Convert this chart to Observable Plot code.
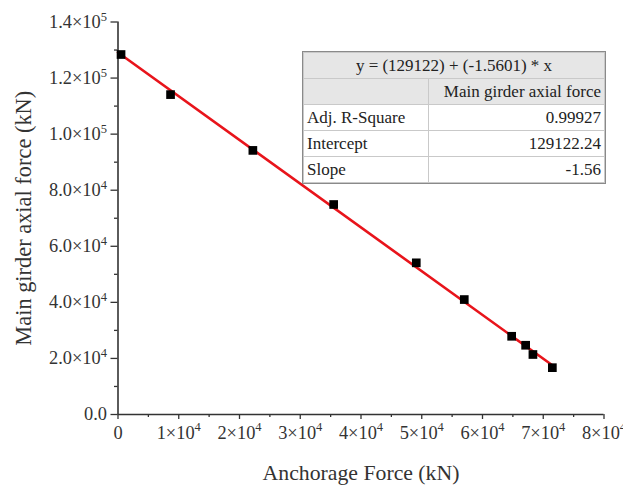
<!DOCTYPE html>
<html>
<head>
<meta charset="utf-8">
<script src="https://cdn.jsdelivr.net/npm/d3@7"></script>
<script src="https://cdn.jsdelivr.net/npm/@observablehq/plot@0.6"></script>
<style>
  body { margin: 0; background: #fff; }
  #wrap { position: relative; width: 623px; height: 485px; font-family: "Liberation Serif", serif; }
  #stats { position: absolute; left: 303px; top: 52px; width: 302px; border-collapse: collapse;
           font-family: "Liberation Serif", serif; font-size: 17px; color: #222; }
  #stats td { height: 25px; padding: 0 3px; border: 1px solid #c9c9c9; line-height: 25px; white-space: nowrap; }
  #stats { outline: 1px solid #8a8a8a; }
  #stats tr.hd td { background: #e6e6e6; }
  #stats td.c1 { width: 118px; text-align: left; }
  #stats td.c2 { text-align: right; }
  #stats td.eq { text-align: center; }
</style>
</head>
<body>
<div id="wrap"></div>
<script>
// Data
const anchorageForce = [500, 8650, 22200, 35500, 49100, 57000, 64800, 67100, 68300, 71500];
const girderForce    = [128400, 114100, 94200, 74900, 54100, 41000, 27900, 24700, 21400, 16700];

// Linear fit shown in the table
const fitIntercept = 129122;
const fitSlope = -1.5601;
const fitXRange = [0, 71500];

// Axis ticks
const xTicks = [0, 10000, 20000, 30000, 40000, 50000, 60000, 70000, 80000];
const xTickLabels = ["0", "1×10⁴", "2×10⁴", "3×10⁴", "4×10⁴", "5×10⁴", "6×10⁴", "7×10⁴", "8×10⁴"];
const xMinorTicks = [5000, 15000, 25000, 35000, 45000, 55000, 65000, 75000];
const yTicks = [0, 20000, 40000, 60000, 80000, 100000, 120000, 140000];
const yTickLabels = ["0.0", "2.0×10⁴", "4.0×10⁴", "6.0×10⁴", "8.0×10⁴", "1.0×10⁵", "1.2×10⁵", "1.4×10⁵"];
const yMinorTicks = [10000, 30000, 50000, 70000, 90000, 110000, 130000];

// Statistics table text
const statsHeader = "y = (129122) + (-1.5601) * x";
const statsColumn = "Main girder axial force";
const statsLabels = ["Adj. R-Square", "Intercept", "Slope"];
const statsValues = ["0.99927", "129122.24", "-1.56"];

const points = anchorageForce.map((x, i) => ({x, y: girderForce[i]}));
const fitLine = fitXRange.map(x => ({x, y: fitIntercept + fitSlope * x}));

const axisColor = "#333";
const baseTickFont = 18;

const chart = Plot.plot({
  width: 623,
  height: 485,
  marginLeft: 117.5,
  marginRight: 19.5,
  marginTop: 21.5,
  marginBottom: 71,
  style: { fontFamily: "Liberation Serif, serif", fontSize: baseTickFont + "px", color: "#333", background: "#fff", overflow: "visible" },
  x: { domain: [0, 80000] },
  y: { domain: [0, 140000] },
  marks: [
    Plot.axisX(xTicks, {
      tickFormat: d => xTickLabels[xTicks.indexOf(d)],
      tickSize: 5, tickPadding: 6, stroke: axisColor, strokeWidth: 1.3,
      label: "Anchorage Force (kN)", labelAnchor: "center", labelArrow: "none", labelOffset: 65
    }),
    Plot.axisX(xMinorTicks, { tickFormat: () => "", tickSize: 3, stroke: axisColor, strokeWidth: 1.3, label: null }),
    Plot.axisY(yTicks, {
      tickFormat: d => yTickLabels[yTicks.indexOf(d)],
      tickSize: 7, tickPadding: 4, stroke: axisColor, strokeWidth: 1.3,
      label: "Main girder axial force (kN)", labelAnchor: "center", labelArrow: "none", labelOffset: 103
    }),
    Plot.axisY(yMinorTicks, { tickFormat: () => "", tickSize: 3.5, stroke: axisColor, strokeWidth: 1.3, label: null }),
    Plot.ruleX([0], { stroke: axisColor, strokeWidth: 1.6 }),
    Plot.ruleY([0], { stroke: axisColor, strokeWidth: 1.6 }),
    Plot.line(fitLine, { x: "x", y: "y", stroke: "#e8141b", strokeWidth: 2.6 }),
    Plot.dot(points, { x: "x", y: "y", symbol: "square", r: 4.9, fill: "#000", stroke: "none" })
  ]
});

const wrap = document.getElementById("wrap");
wrap.appendChild(chart);

// tick labels: superscript exponents as raised tspans
const supMap = {"⁰":"0","¹":"1","²":"2","³":"3","⁴":"4","⁵":"5","⁶":"6","⁷":"7","⁸":"8","⁹":"9"};
const tickTexts = [...chart.querySelectorAll("[aria-label='x-axis tick label'] text, [aria-label='y-axis tick label'] text")];
const sups = [];
tickTexts.forEach(t => {
  const s = t.textContent;
  const m = s.match(/^(.*?)([⁰¹²³⁴⁵⁶⁷⁸⁹]+)$/);
  if (!m) return;
  t.textContent = m[1];
  const sup = document.createElementNS("http://www.w3.org/2000/svg", "tspan");
  sup.textContent = m[2].split("").map(c => supMap[c]).join("");
  t.appendChild(sup);
  sups.push(sup);
});
function sizeTicks(fs) {
  tickTexts.forEach(t => { t.setAttribute("font-size", fs + "px"); t.style.fontSize = fs + "px"; });
  sups.forEach(sp => {
    sp.style.fontSize = (fs * 0.68).toFixed(2) + "px";
    sp.setAttribute("dy", (-fs * 0.4).toFixed(1));
  });
}
sizeTicks(baseTickFont);
// match the reference width of the "1.4×10⁵" label (about 58 px)
const refLabel = chart.querySelectorAll("[aria-label='y-axis tick label'] text");
let topLabel = null;
refLabel.forEach(t => { if (t.textContent.startsWith("1.4")) topLabel = t; });
if (topLabel) {
  const len = topLabel.getComputedTextLength();
  if (len > 0) sizeTicks(+(baseTickFont * 58 / len).toFixed(2));
}

// axis titles: size them to the lengths they have in the reference
const titleTargets = { "x-axis label": 197, "y-axis label": 255 };
Object.entries(titleTargets).forEach(([lab, target]) => {
  chart.querySelectorAll(`[aria-label='${lab}'] text`).forEach(t => {
    t.style.fontSize = "20px";
    const len = t.getComputedTextLength();
    if (len > 0) t.style.fontSize = (20 * target / len).toFixed(2) + "px";
  });
});

// statistics table overlay
const table = document.createElement("table");
table.id = "stats";
let html = `<tr class="hd"><td class="eq" colspan="2">${statsHeader}</td></tr>`;
html += `<tr class="hd"><td class="c1"></td><td class="c2">${statsColumn}</td></tr>`;
statsLabels.forEach((lab, i) => {
  html += `<tr><td class="c1">${lab}</td><td class="c2">${statsValues[i]}</td></tr>`;
});
table.innerHTML = html;
wrap.appendChild(table);
</script>
</body>
</html>
